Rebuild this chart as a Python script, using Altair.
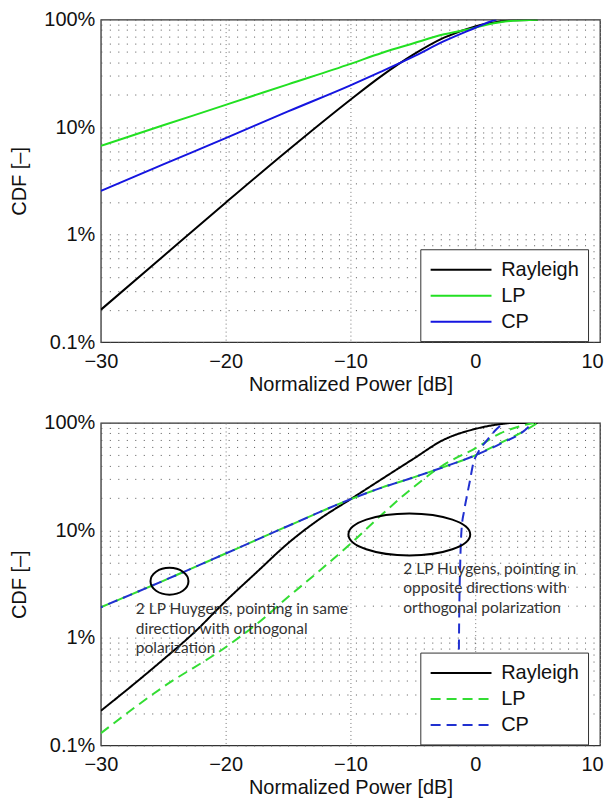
import altair as alt
import pandas as pd

# ---------------- data ----------------
series_names = ["Rayleigh", "LP", "CP"]

# top panel
top_x_rayleigh = [-30, -25, -20, -15, -10, -7.5, -5, -2.5, 0, 1, 2, 3, 5]
top_rayleigh = [0.002, 0.0063, 0.0198, 0.061, 0.18, 0.30, 0.47, 0.68, 0.865, 0.92, 0.96, 0.985, 1.0]
top_x_lp = [-30, -25, -20, -15, -10, -7.5, -5, -2.5, 0, 1, 2, 3, 5]
top_lp = [0.067, 0.104, 0.161, 0.25, 0.388, 0.49, 0.60, 0.73, 0.84, 0.90, 0.945, 0.975, 1.0]
top_x_cp = [-30, -25, -20, -15, -10, -7.5, -5, -2.5, 0, 1, 1.7]
top_cp = [0.0255, 0.045, 0.079, 0.14, 0.245, 0.33, 0.45, 0.63, 0.84, 0.94, 1.0]

# bottom panel
bot_x_rayleigh = [-30, -27.5, -25, -22.5, -20, -17.5, -15, -12.5, -10, -7.5, -5, -2.5, 0, 2, 3, 5]
bot_rayleigh = [0.0021, 0.0036, 0.0063, 0.0113, 0.022, 0.041, 0.076, 0.127, 0.195, 0.30, 0.46, 0.70, 0.88, 0.975, 1.0, 1.0]
bot_x_same = [-30, -25, -20, -15, -10, -7.5, -5, -2.5, 0, 2, 4, 5]
bot_lp_same = [0.0193, 0.034, 0.061, 0.11, 0.195, 0.25, 0.31, 0.39, 0.5, 0.65, 0.85, 1.0]
bot_x_cp_same = [-30, -25, -20, -15, -10, -7.5, -5, -2.5, 0, 2, 4, 4.6]
bot_cp_same = [0.0193, 0.034, 0.061, 0.11, 0.195, 0.25, 0.31, 0.39, 0.5, 0.64, 0.86, 1.0]
bot_x_lp_opp = [-30, -25, -20, -17.5, -15, -12.5, -10, -7.5, -5, -2.5, 0, 2, 4, 4.7]
bot_lp_opp = [0.0013, 0.0035, 0.0082, 0.0135, 0.024, 0.042, 0.075, 0.14, 0.25, 0.41, 0.58, 0.8, 0.96, 1.0]
bot_x_cp_opp = [-1.35, -1.3, -1.2, -1.1, -0.9, -0.7, -0.4, -0.2, 0.3, 0.9, 1.6, 2.3]
bot_cp_opp = [0.001, 0.01, 0.05, 0.1, 0.15, 0.2, 0.3, 0.4, 0.55, 0.68, 0.85, 1.0]

# annotations (bottom panel)
ann_x = [-27.2, -5.76]
ann_y = [0.0215, 0.0513]
ann_text = [
    "2 LP Huygens, pointing in same\ndirection with orthogonal\npolarization",
    "2 LP Huygens, pointing in\nopposite directions with\northogonal polarization",
]
ell_x = [-24.5, -5.28]
ell_y = [0.0337, 0.0918]

x_ticks = [-30, -20, -10, 0, 10]
y_ticks = [round(m * 10 ** k, 6) for k in (-3, -2, -1) for m in range(1, 10)] + [1.0]


def make_df(parts):
    rows = []
    for name, cfg, xs, ys in parts:
        for i, (a, b) in enumerate(zip(xs, ys)):
            rows.append({"x": a, "y": b, "series": name, "cfg": cfg, "i": i})
    return pd.DataFrame(rows)


top_df = make_df([
    ("Rayleigh", "r", top_x_rayleigh, top_rayleigh),
    ("LP", "lp", top_x_lp, top_lp),
    ("CP", "cp", top_x_cp, top_cp),
])
bot_df = make_df([
    ("Rayleigh", "r", bot_x_rayleigh, bot_rayleigh),
    ("LP", "lp_opp", bot_x_lp_opp, bot_lp_opp),
    ("LP", "lp_same", bot_x_same, bot_lp_same),
    ("CP", "cp_opp", bot_x_cp_opp, bot_cp_opp),
])
bot_cp_same_df = make_df([("CP", "cp_same", bot_x_cp_same, bot_cp_same)])
ann_df = pd.DataFrame({"x": ann_x, "y": ann_y, "text": ann_text})
ell_df = pd.DataFrame({"x": ell_x, "y": ell_y, "k": ["small", "big"]})

FONT = "Liberation Sans"

label_expr = ("datum.value == 0.001 ? '0.1%' : datum.value == 0.01 ? '1%' : "
              "datum.value == 0.1 ? '10%' : datum.value == 1 ? '100%' : ''")

x_enc = alt.X("x:Q", scale=alt.Scale(domain=[-30, 10], nice=False, zero=False),
              axis=alt.Axis(values=x_ticks, title="Normalized Power [dB]", format="d",
                            labelFlush=False, labelPadding=9, titlePadding=3,
                            labelOffset=alt.ConditionalAxisNumber(
                                condition={"test": "datum.value == 10", "value": -8}, value=0),
                            gridDash=[1, 3], gridColor="#777"))
y_enc = alt.Y("y:Q", scale=alt.Scale(type="log", domain=[0.001, 1], nice=False),
              axis=alt.Axis(values=y_ticks, labelExpr=label_expr, title="CDF [–]",
                            labelOverlap=False, labelPadding=6, titlePadding=14,
                            gridDash=[1, 7.5], gridColor="#555"))

LEG_PATH = "M -1 0 H 5"


def legend():
    return alt.Legend(title=None, orient="none", legendX=320, legendY=230,
                      strokeColor="#333", fillColor="white", padding=9,
                      symbolType=LEG_PATH, symbolSize=413, symbolStrokeWidth=2,
                      labelFontSize=20, labelFont=FONT, labelColor="#111",
                      rowPadding=4, labelOffset=49)


W, H = 500, 323

top_lines = alt.Chart(top_df).mark_line(strokeWidth=2, clip=True, interpolate="monotone").encode(
    x=x_enc, y=y_enc,
    color=alt.Color("series:N", scale=alt.Scale(domain=series_names,
                                                range=["#000000", "#22e022", "#1515e0"]),
                    legend=legend()),
    detail="cfg:N", order="i:Q",
)
top = alt.layer(top_lines).properties(width=W, height=H)

bot_color = alt.Color("series:N", scale=alt.Scale(domain=series_names,
                                                  range=["#000000", "#33dd33", "#2030d0"]),
                      legend=legend())
bot_dash = alt.StrokeDash("series:N", scale=alt.Scale(domain=series_names,
                                                      range=[[1, 0], [10, 6], [10, 6]]),
                          legend=None)
bot_lines = alt.Chart(bot_df).mark_line(strokeWidth=2, clip=True, interpolate="monotone").encode(
    x=x_enc, y=y_enc, color=bot_color, strokeDash=bot_dash,
    detail="cfg:N", order="i:Q",
)
bot_cp_line = alt.Chart(bot_cp_same_df).mark_line(
    strokeWidth=2, clip=True, interpolate="monotone", strokeDashOffset=8).encode(
    x=x_enc, y=y_enc, color=bot_color, strokeDash=bot_dash,
    detail="cfg:N", order="i:Q",
)
ann = alt.Chart(ann_df).mark_text(align="left", baseline="top", font="Lato", fontSize=15.5,
                                  lineHeight=19.5, lineBreak="\n", color="#333").encode(
    x="x:Q", y="y:Q", text="text:N")
ell_small = alt.Chart(ell_df[ell_df.k == "small"]).mark_point(
    shape="M -1 0 A 1 0.71 0 1 1 1 0 A 1 0.71 0 1 1 -1 0 Z", size=1444,
    filled=False, stroke="black", strokeWidth=2, opacity=1).encode(x="x:Q", y="y:Q")
ell_big = alt.Chart(ell_df[ell_df.k == "big"]).mark_point(
    shape="M -1 0 A 1 0.344 0 1 1 1 0 A 1 0.344 0 1 1 -1 0 Z", size=14884,
    filled=False, stroke="black", strokeWidth=2, opacity=1).encode(x="x:Q", y="y:Q")
bottom = alt.layer(bot_lines, bot_cp_line, ell_small, ell_big, ann).properties(width=W, height=H)

chart = alt.vconcat(top, bottom, spacing=17).resolve_scale(
    color="independent", strokeDash="independent"
).resolve_legend(color="independent").properties(
    padding={"left": 1, "top": 0, "right": 0, "bottom": 0}
).configure_view(stroke="#333", strokeWidth=1.3).configure_axis(
    labelFont=FONT, titleFont=FONT, labelFontSize=20, titleFontSize=20,
    titleFontWeight="normal", labelColor="#111", titleColor="#111",
    ticks=False, domain=False, grid=True, gridWidth=1, gridOpacity=1,
)

chart.save("out.html", embed_options={"renderer": "svg", "actions": False})
